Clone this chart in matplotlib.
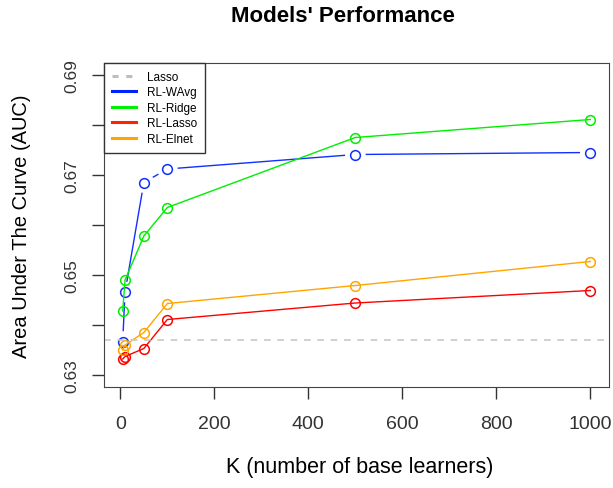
import numpy as np
import matplotlib
matplotlib.use("Agg")
import matplotlib.pyplot as plt
from matplotlib.lines import Line2D

plt.rcParams['font.family'] = ['Liberation Sans', 'DejaVu Sans']

# data
K = [5, 10, 50, 100, 500, 1000]
wavg = [0.6367, 0.6466, 0.6685, 0.6712, 0.6741, 0.6745]
ridge = [0.6428, 0.6490, 0.6578, 0.6635, 0.6775, 0.6811]
rl_lasso = [0.6332, 0.6337, 0.6353, 0.6411, 0.6444, 0.6469]
elnet = [0.6350, 0.6360, 0.6385, 0.6443, 0.6479, 0.6527]
lasso_auc = 0.637

yticks = [0.63, 0.64, 0.65, 0.66, 0.67, 0.68, 0.69]
ylabels = ['0.63', '', '0.65', '', '0.67', '', '0.69']
xticks = [0, 200, 400, 600, 800, 1000]

fig = plt.figure(figsize=(6.13, 4.89), dpi=100)
ax = fig.add_axes([104/613, 101/489, 505/613, 324/489])
ax.set_xlim(-34.8, 1039.8)
ax.set_ylim(0.6276, 0.6924)


def b_type(ax, x, y, color, gap=11):
    # R type="b": segments stop short of the points
    pts = ax.transData.transform(np.column_stack([x, y]))
    inv = ax.transData.inverted()
    for p0, p1 in zip(pts[:-1], pts[1:]):
        d = p1 - p0
        L = np.hypot(*d)
        if L <= 2 * gap:
            continue
        u = d / L
        a, b = inv.transform(np.array([p0 + u * gap, p1 - u * gap]))
        ax.plot([a[0], b[0]], [a[1], b[1]], color=color, lw=1)
    ax.plot(x, y, 'o', ms=7, mfc='none', mec=color, mew=1.1)


b_type(ax, K, wavg, '#1030FF')
ax.plot(K, ridge, '-o', color='#00EE00', lw=1, ms=7, mfc='none', mew=1.1)
ax.plot(K, rl_lasso, '-o', color='#FF0000', lw=1, ms=7, mfc='none', mew=1.1)
ax.plot(K, elnet, '-o', color='#FFA500', lw=1, ms=7, mfc='none', mew=1.1)
ax.axhline(lasso_auc, color='#C8C8C8', lw=1.2, ls=(0, (4, 4)))

ax.set_xticks(xticks)
ax.set_xticklabels([str(t) for t in xticks], fontsize=14)
ax.set_yticks(yticks)
ax.set_yticklabels(ylabels, fontsize=12.5, rotation=90, va='center')
ax.tick_params(direction='out', length=8.5, width=1, colors='#333333')
ax.tick_params(axis='x', pad=12)
ax.tick_params(axis='y', pad=9)
for s in ax.spines.values():
    s.set_color('#444444')

fig.text(22/613, 1 - 226/489, 'Area Under The Curve (AUC)', rotation=90,
         ha='center', va='center', fontsize=14.5)
fig.text(360/613, 1 - 468/489, 'K (number of base learners)',
         ha='center', va='center', fontsize=15.5)
fig.text(343/613, 1 - 16/489, "Models' Performance", ha='center',
         va='center', fontsize=16, fontweight='bold')

handles = [Line2D([], [], color='#BEBEBE', lw=2.2, ls=(0, (2, 2.5))),
           Line2D([], [], color='#0022FF', lw=2.2),
           Line2D([], [], color='#00EE00', lw=2.2),
           Line2D([], [], color='#FF2200', lw=2.2),
           Line2D([], [], color='#FFA500', lw=2.2)]
leg = ax.legend(handles, ['Lasso', 'RL-WAvg', 'RL-Ridge', 'RL-Lasso', 'RL-Elnet'],
                loc='upper left', bbox_to_anchor=(0, 1), borderaxespad=0,
                fontsize=8.5, fancybox=False, framealpha=1, handlelength=2.1,
                labelspacing=0.3, handletextpad=0.9, borderpad=0.65)
leg.get_frame().set_edgecolor('#333333')
leg.get_frame().set_linewidth(1)

fig.savefig('out.png', dpi=100)
